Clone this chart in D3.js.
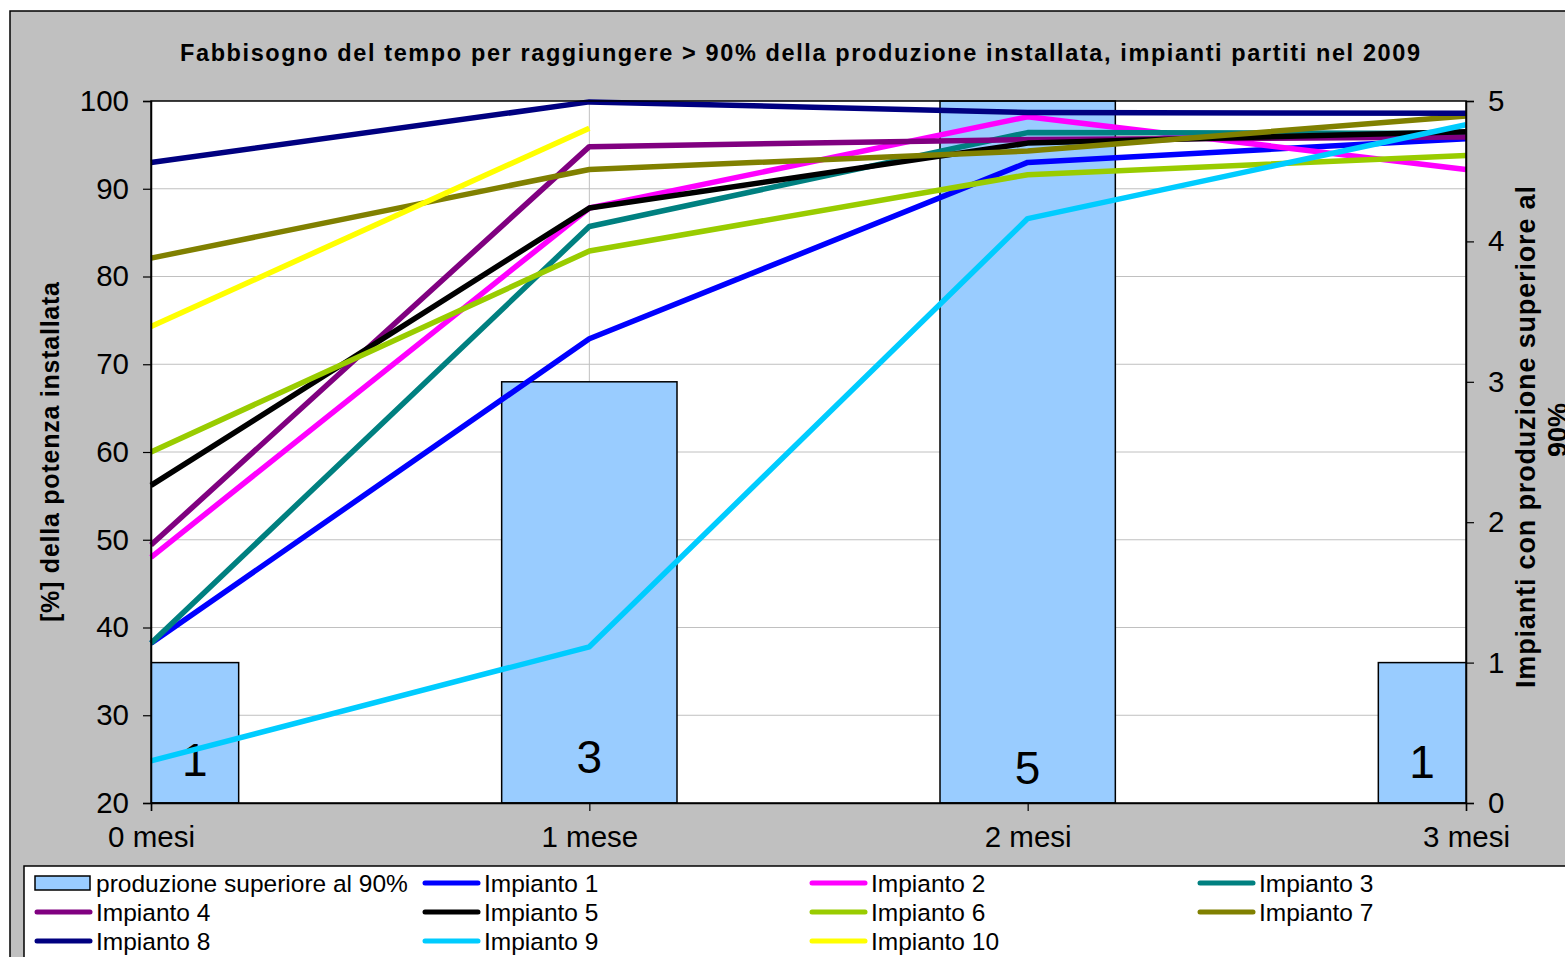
<!DOCTYPE html>
<html>
<head>
<meta charset="utf-8">
<script src="https://cdn.jsdelivr.net/npm/d3@7"></script>
<style>
  html, body { margin: 0; padding: 0; background: #ffffff; }
  svg { display: block; font-family: "Liberation Sans", Arial, sans-serif; }
</style>
</head>
<body>
<svg id="chart" width="1565" height="957"></svg>
<script>
// ---- data ----
const categories = ["0 mesi", "1 mese", "2 mesi", "3 mesi"];
const barValues = [1, 3, 5, 1];
const barSeriesName = "produzione superiore al 90%";
const seriesNames = ["Impianto 1","Impianto 2","Impianto 3","Impianto 4","Impianto 5","Impianto 6","Impianto 7","Impianto 8","Impianto 9","Impianto 10"];
const impianto1 = [38.2, 72.9, 93.0, 95.7];
const impianto2 = [48.0, 87.8, 98.2, 92.2];
const impianto3 = [38.2, 85.7, 96.4, 96.3];
const impianto4 = [49.4, 94.8, 95.6, 95.9];
const impianto5 = [56.2, 87.8, 95.2, 96.5];
const impianto6 = [60.0, 82.9, 91.6, 93.8];
const impianto7 = [82.1, 92.2, 94.3, 98.3];
const impianto8 = [93.0, 99.9, 98.7, 98.6];
const impianto9 = [24.8, 37.8, 86.6, 97.3];
const impianto10 = [74.3, 96.9, null, null];
const seriesValues = [impianto1, impianto2, impianto3, impianto4, impianto5, impianto6, impianto7, impianto8, impianto9, impianto10];
const seriesColors = ["#0000ff","#ff00ff","#008080","#800080","#000000","#99cc00","#808000","#000080","#00ccff","#ffff00"];
const leftTicks = [20, 30, 40, 50, 60, 70, 80, 90, 100];
const rightTicks = [0, 1, 2, 3, 4, 5];
const titleText = "Fabbisogno del tempo per raggiungere > 90% della produzione installata, impianti partiti nel 2009";
const leftLabel = "[%] della potenza installata";
const rightLabelLines = ["Impianti con produzione superiore al", "90%"];

// ---- layout ----
const svg = d3.select("#chart");
const P = { left: 151, right: 1466, top: 101, bottom: 803 };

// outer frame
svg.append("rect").attr("x", 10).attr("y", 11).attr("width", 1570).attr("height", 960)
  .attr("fill", "#c0c0c0").attr("stroke", "#000").attr("stroke-width", 1.5);

const x = d3.scalePoint().domain(categories).range([P.left, P.right]).padding(0);
const yL = d3.scaleLinear().domain([20, 100]).range([P.bottom, P.top]);
const yR = d3.scaleLinear().domain([0, 5]).range([P.bottom, P.top]);

// plot area
svg.append("rect").attr("x", P.left).attr("y", P.top)
  .attr("width", P.right - P.left).attr("height", P.bottom - P.top).attr("fill", "#fff");

svg.append("clipPath").attr("id", "plotclip").append("rect")
  .attr("x", P.left).attr("y", P.top - 3).attr("width", P.right - P.left).attr("height", P.bottom - P.top + 3);

// gridlines
svg.append("g").selectAll("line").data(leftTicks.slice(1, -1)).join("line")
  .attr("x1", P.left).attr("x2", P.right).attr("y1", d => yL(d)).attr("y2", d => yL(d))
  .attr("stroke", "#c0c0c0").attr("stroke-width", 1);
svg.append("g").selectAll("line").data(categories.slice(1, -1)).join("line")
  .attr("x1", d => x(d)).attr("x2", d => x(d)).attr("y1", P.top).attr("y2", P.bottom)
  .attr("stroke", "#c0c0c0").attr("stroke-width", 1);

// bars
const barW = x.step() * 0.4;
const plot = svg.append("g").attr("clip-path", "url(#plotclip)");
plot.append("g").selectAll("rect").data(barValues).join("rect")
  .attr("x", (d, i) => x(categories[i]) - barW / 2)
  .attr("y", d => yR(d))
  .attr("width", barW)
  .attr("height", d => P.bottom - yR(d))
  .attr("fill", "#99ccff").attr("stroke", "#000").attr("stroke-width", 1.5);

// bar labels
const labelY = [760, 757, 768, 762];
svg.append("g").selectAll("text").data(barValues).join("text")
  .attr("x", (d, i) => {
    const l = Math.max(P.left, x(categories[i]) - barW / 2), r = Math.min(P.right, x(categories[i]) + barW / 2);
    return (l + r) / 2;
  })
  .attr("y", (d, i) => labelY[i])
  .attr("dy", "0.35em")
  .attr("text-anchor", "middle").attr("font-size", 46).attr("fill", "#000")
  .text(d => d);

// lines
const line = d3.line().defined(d => d != null).x((d, i) => x(categories[i])).y(d => yL(d));
seriesValues.forEach((vals, k) => {
  svg.append("path").datum(vals).attr("d", line)
    .attr("fill", "none").attr("stroke", seriesColors[k]).attr("stroke-width", 5.5)
    .attr("stroke-linejoin", "round");
});

// plot border
svg.append("rect").attr("x", P.left).attr("y", P.top)
  .attr("width", P.right - P.left).attr("height", P.bottom - P.top)
  .attr("fill", "none").attr("stroke", "#000").attr("stroke-width", 1.5);

// axes
const axL = svg.append("g").attr("transform", `translate(${P.left},0)`)
  .call(d3.axisLeft(yL).tickValues(leftTicks).tickSize(8).tickPadding(14));
const axR = svg.append("g").attr("transform", `translate(${P.right},0)`)
  .call(d3.axisRight(yR).tickValues(rightTicks).tickFormat(d3.format("d")).tickSize(8).tickPadding(14));
const axB = svg.append("g").attr("transform", `translate(0,${P.bottom})`)
  .call(d3.axisBottom(x).tickSize(8).tickPadding(11));
[axL, axR, axB].forEach(a => {
  a.select(".domain").attr("stroke", "#000").attr("stroke-width", 1.5);
  a.selectAll(".tick line").attr("stroke", "#000").attr("stroke-width", 1.2);
  a.selectAll(".tick text").attr("font-size", 29.5).attr("fill", "#000")
    .attr("font-family", "'Liberation Sans', Arial, sans-serif");
});
axB.selectAll(".tick text").attr("dy", "0.85em");

// title
svg.append("text").attr("x", 800).attr("y", 61).attr("text-anchor", "middle")
  .attr("font-size", 23.5).attr("font-weight", "bold").attr("fill", "#000")
  .attr("textLength", 1240).attr("lengthAdjust", "spacing")
  .text(titleText);

// left axis label
svg.append("text").attr("transform", "translate(59,452) rotate(-90)")
  .attr("text-anchor", "middle").attr("font-size", 25).attr("font-weight", "bold")
  .attr("textLength", 340).attr("lengthAdjust", "spacing")
  .text(leftLabel);

// right axis label (second line is cut by the chart edge, as in the original)
svg.append("text").attr("transform", "translate(1535,437) rotate(-90)")
  .attr("text-anchor", "middle").attr("font-size", 27).attr("font-weight", "bold")
  .attr("textLength", 502).attr("lengthAdjust", "spacing")
  .text(rightLabelLines[0]);
svg.append("text").attr("transform", "translate(1567,430) rotate(-90)")
  .attr("text-anchor", "middle").attr("font-size", 27).attr("font-weight", "bold")
  .text(rightLabelLines[1]);

// legend
svg.append("rect").attr("x", 24).attr("y", 866).attr("width", 1560).attr("height", 110)
  .attr("fill", "#fff").attr("stroke", "#000").attr("stroke-width", 1.5);
const legendItems = [{ name: barSeriesName, type: "bar", color: "#99ccff" }]
  .concat(seriesNames.map((n, i) => ({ name: n, type: "line", color: seriesColors[i] })));
const colX = [35, 423, 810, 1198];
const rowY = [883, 912, 941];
const lg = svg.append("g").selectAll("g").data(legendItems).join("g")
  .attr("transform", (d, i) => `translate(${colX[i % 4]},${rowY[Math.floor(i / 4)]})`);
lg.each(function(d) {
  const g = d3.select(this);
  if (d.type === "bar") {
    g.append("rect").attr("x", 0).attr("y", -7).attr("width", 55).attr("height", 14)
      .attr("fill", d.color).attr("stroke", "#000").attr("stroke-width", 1.5);
  } else {
    g.append("line").attr("x1", 2).attr("x2", 55).attr("y1", 0).attr("y2", 0)
      .attr("stroke", d.color).attr("stroke-width", 5).attr("stroke-linecap", "round");
  }
  g.append("text").attr("x", 61).attr("y", 0).attr("dy", "0.36em")
    .attr("font-size", 24.5).attr("fill", "#000").text(d.name);
});
</script>
</body>
</html>
